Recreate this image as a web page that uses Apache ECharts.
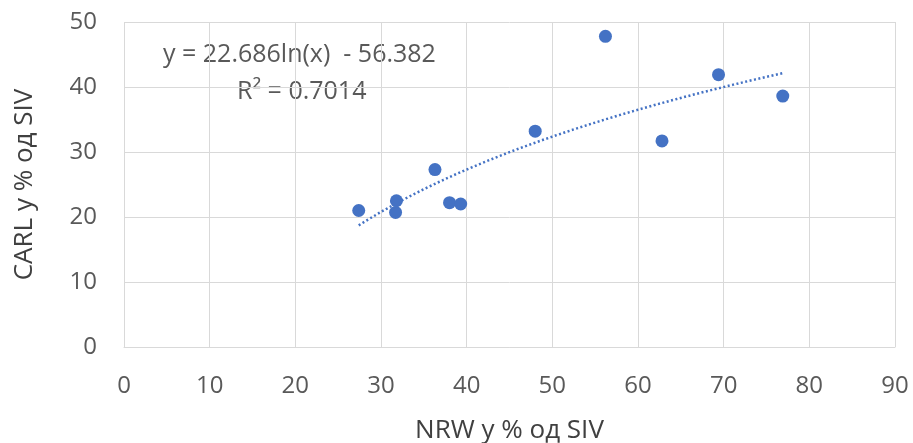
<!DOCTYPE html>
<html><head><meta charset="utf-8">
<script src="https://cdn.jsdelivr.net/npm/echarts@6/dist/echarts.min.js"></script>
<style>html,body{margin:0;padding:0;background:#fff}#c{width:913px;height:443px}</style>
</head><body><div id="c"></div>
<script>
const nrw  = [27.4, 31.7, 31.8, 36.3, 38.0, 39.3, 48.0, 56.2, 62.8, 69.4, 76.9];
const carl = [21.0, 20.7, 22.5, 27.3, 22.2, 22.0, 33.2, 47.8, 31.7, 41.9, 38.6];
const trendA = 22.686, trendB = -56.382, r2 = 0.7014;
const xTicks = [0,10,20,30,40,50,60,70,80,90];
const yTicks = [0,10,20,30,40,50];

const pts = nrw.map((x,i)=>[x,carl[i]]);
const xmin = Math.min(...nrw), xmax = Math.max(...nrw);
const trend = [];
for (let k=0;k<=60;k++){ const x = xmin + (xmax-xmin)*k/60; trend.push([x, trendA*Math.log(x)+trendB]); }

const font = '"Open Sans", "Liberation Sans", sans-serif';
const grey = '#595959';
const chart = echarts.init(document.getElementById('c'));
chart.setOption({
  animation:false,
  grid:{left:124,right:18,top:22,bottom:96,outerBoundsMode:'none',containLabel:false},
  xAxis:{type:'value',min:xTicks[0],max:xTicks[xTicks.length-1],interval:xTicks[1]-xTicks[0],
    name:'NRW у % од SIV',nameLocation:'middle',nameGap:71,
    nameTextStyle:{fontSize:26,color:'#404040',fontFamily:font},
    axisLine:{show:true,lineStyle:{color:'#d9d9d9'}},axisTick:{show:false},
    axisLabel:{fontSize:24,color:grey,fontFamily:font,margin:27},
    splitLine:{show:true,lineStyle:{color:'#d9d9d9',width:1}}},
  yAxis:{type:'value',min:yTicks[0],max:yTicks[yTicks.length-1],interval:yTicks[1]-yTicks[0],
    name:'CARL у % од SIV',nameLocation:'middle',nameGap:86,nameRotate:90,
    nameTextStyle:{fontSize:26,color:'#404040',fontFamily:font},
    axisLine:{show:false},axisTick:{show:false},
    axisLabel:{fontSize:24,color:grey,fontFamily:font,margin:27},
    splitLine:{show:true,lineStyle:{color:'#d9d9d9',width:1}}},
  series:[
    {type:'line',data:trend,showSymbol:false,smooth:false,
     lineStyle:{color:'#4472C4',width:2.5,type:[2,2.5]},z:2},
    {type:'scatter',data:pts,symbolSize:13,itemStyle:{color:'#4472C4',opacity:1},z:3}
  ],
  graphic:[
    {type:'text',left:163,top:42,style:{text:'y = '+trendA.toFixed(3)+'ln(x)  - '+Math.abs(trendB).toFixed(3),fontSize:25,fill:grey,fontFamily:font}},
    {type:'text',left:237,top:79,style:{text:'R² = '+r2.toFixed(4),fontSize:25,fill:grey,fontFamily:font}}
  ]
});
</script></body></html>
